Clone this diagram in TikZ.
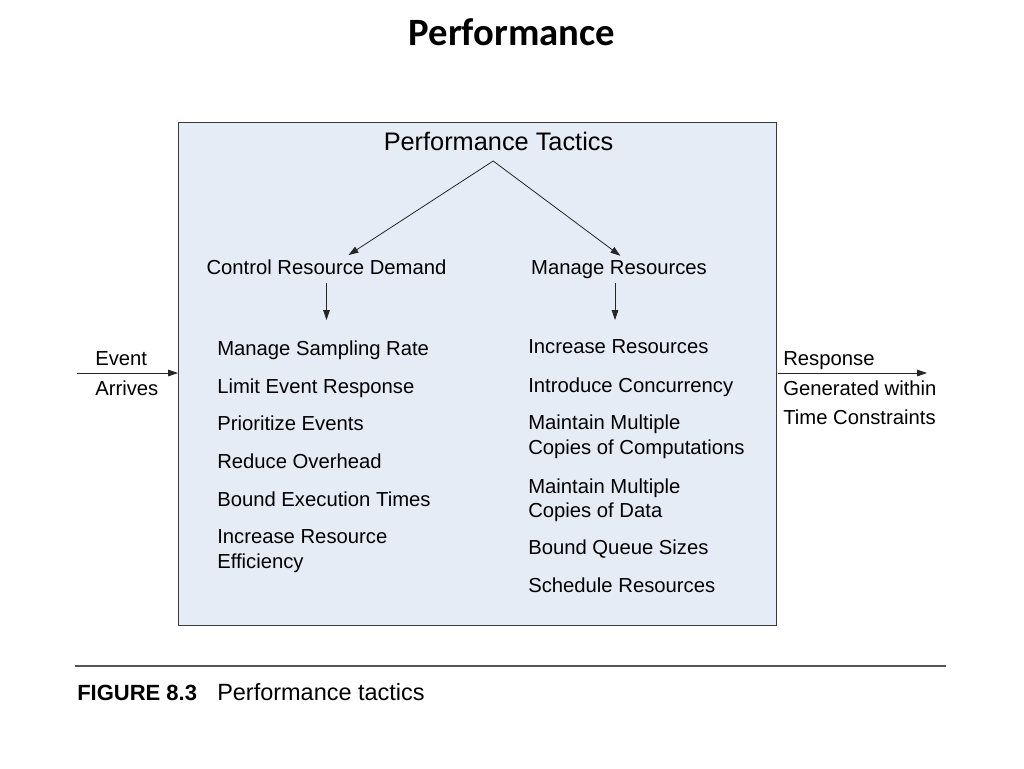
\documentclass[tikz,border=0pt]{standalone}
\usepackage{fontspec}
\setmainfont{Liberation Sans}
\newfontfamily\titlefont{Carlito}
\usetikzlibrary{arrows.meta}
\definecolor{boxfill}{HTML}{E6ECF6}
\definecolor{boxline}{HTML}{3A3A3A}
\definecolor{rulecol}{HTML}{555555}
\begin{document}
\begin{tikzpicture}[x=0.75pt,y=-0.75pt,
  lbl/.style={anchor=base west, inner sep=0pt, font=\fontsize{15.2}{18.75}\selectfont},
  head/.style={anchor=base, inner sep=0pt, font=\fontsize{15.2}{18.75}\selectfont},
  arr/.style={draw=black!85, line width=0.6pt, -{Triangle[length=7.5pt,width=5pt]}},
  conn/.style={draw=black!85, line width=0.6pt}]
\fill[white] (0,0) rectangle (1024,768);
\useasboundingbox (0,0) rectangle (1024,768);

% title
\node[anchor=base, inner sep=0pt, font=\titlefont\bfseries\fontsize{29}{34}\selectfont] (title) at (512,45) {Performance};

% main box
\node[draw=boxline, fill=boxfill, line width=0.7pt, anchor=north west,
      minimum width=448.5pt, minimum height=377.25pt, inner sep=0pt] (box) at (178,122) {};

\node[anchor=base, inner sep=0pt, font=\fontsize{19}{23}\selectfont] (pt) at (498.5,150) {Performance Tactics};
\node[head] (crd) at (326.5,274) {Control Resource Demand};
\node[head] (mr) at (619,274) {Manage Resources};

\draw[arr] ([xshift=-4pt,yshift=-8.25pt]pt.base) -- ([xshift=16.5pt,yshift=3pt]crd.north);
\draw[arr] ([xshift=-4pt,yshift=-8.25pt]pt.base) -- ([xshift=1pt,yshift=3pt]mr.north);
\draw[arr] ([yshift=-6.75pt]crd.base) -- ++(0,37);
\draw[arr] ([xshift=-3pt,yshift=-6.75pt]mr.base) -- ++(0,37);

% left column
\node[lbl] (l1) at (217,355) {Manage Sampling Rate};
\node[lbl] (l2) at (217,393) {Limit Event Response};
\node[lbl] (l3) at (217,430) {Prioritize Events};
\node[lbl] (l4) at (217,468) {Reduce Overhead};
\node[lbl] (l5) at (217,506) {Bound Execution Times};
\node[lbl] (l6a) at (217,543) {Increase Resource};
\node[lbl] (l6b) at (217,568) {Efficiency};

% right column
\node[lbl] (r1) at (528,353) {Increase Resources};
\node[lbl] (r2) at (528,392) {Introduce Concurrency};
\node[lbl] (r3a) at (528,429) {Maintain Multiple};
\node[lbl] (r3b) at (528,454) {Copies of Computations};
\node[lbl] (r4a) at (528,493) {Maintain Multiple};
\node[lbl] (r4b) at (528,517) {Copies of Data};
\node[lbl] (r5) at (528,554) {Bound Queue Sizes};
\node[lbl] (r6) at (528,592) {Schedule Resources};

% input / output
\coordinate (evs) at (77,373);
\coordinate (rse) at (927,373);
\draw[arr] (evs) -- (evs -| box.west);
\draw[arr] ([xshift=0.75pt]rse -| box.east) -- (rse);
\node[lbl] (ev1) at (95,365) {Event};
\node[lbl] (ev2) at (95,395) {Arrives};
\node[lbl] (rs1) at (783,365) {Response};
\node[lbl] (rs2) at (783,395) {Generated within};
\node[lbl] (rs3) at (783,424) {Time Constraints};

% caption
\coordinate (rl) at (75,666);
\coordinate (rr) at (946,666);
\draw[draw=rulecol, line width=0.8pt] (rl) -- (rr);
\node[anchor=base west, inner sep=0pt, font=\bfseries\fontsize{16.5}{20}\selectfont] (fig) at (77,700) {FIGURE 8.3};
\node[anchor=base west, inner sep=0pt, font=\fontsize{17.6}{21}\selectfont] (cap) at (217,700) {Performance tactics};
\end{tikzpicture}
\end{document}
